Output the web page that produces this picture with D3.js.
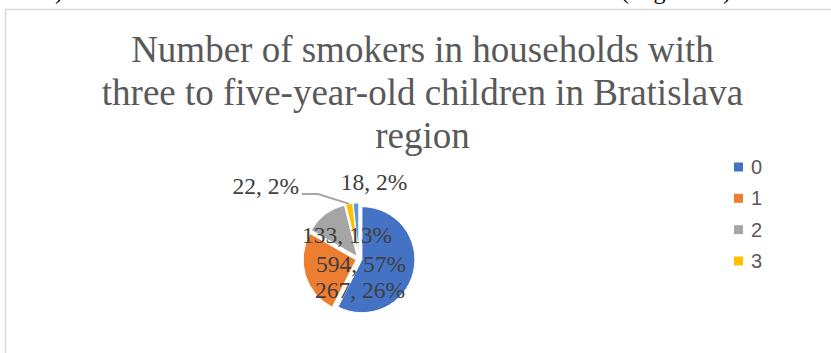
<!DOCTYPE html>
<html>
<head>
<meta charset="utf-8">
<script src="https://cdn.jsdelivr.net/npm/d3@7"></script>
<style>
  html, body { margin: 0; padding: 0; background: #fff; }
  svg { display: block; }
</style>
</head>
<body>
<svg id="chart" width="831" height="353"></svg>
<script>
// Households by number of smokers
const categories = ["0", "1", "2", "3", "4"];
const counts = [594, 267, 133, 22, 18];
const percentLabels = ["57%", "26%", "13%", "2%", "2%"];
const legendItems = ["0", "1", "2", "3"];
const titleLines = [
  "Number of smokers in households with",
  "three to five-year-old children in Bratislava",
  "region"
];

const colors = ["#4472C4", "#ED7D31", "#A5A5A5", "#FFC000", "#5B9BD5"];

const svg = d3.select("#chart");
const W = 831, H = 353;

// Tail of the preceding text line, clipped at the top of the page
const serif = "'Liberation Serif', 'Times New Roman', serif";
svg.append("text").attr("x", 55).attr("y", -1)
  .attr("font-family", serif).attr("font-size", 24).attr("fill", "#000").text(")");
svg.append("text").attr("x", 621).attr("y", -1)
  .attr("font-family", serif).attr("font-size", 24).attr("fill", "#000")
  .attr("textLength", 110).attr("lengthAdjust", "spacing").text("(Figure 1)");

// Chart frame
svg.append("path")
  .attr("d", `M5.5,${H} V9.5 H${W}`)
  .attr("fill", "none").attr("stroke", "#D9D9D9").attr("stroke-width", 1.5);

// Title
const title = svg.append("text")
  .attr("text-anchor", "middle")
  .attr("font-family", serif)
  .attr("font-size", 37)
  .attr("fill", "#595959");
titleLines.forEach((line, i) => {
  title.append("tspan").attr("x", 422.5).attr("y", 62 + i * 43).text(line);
});

// Pie
const cx = 359, cy = 259, R = 53, explode = 3;
const pie = d3.pie().sort(null).value(d => d.value);
const data = categories.map((c, i) => ({ cat: c, value: counts[i], pct: percentLabels[i], color: colors[i] }));
const arcs = pie(data);
const arc = d3.arc().innerRadius(0).outerRadius(R);

const g = svg.append("g").attr("transform", `translate(${cx},${cy})`);

function dirOf(a) {
  const m = (a.startAngle + a.endAngle) / 2;
  return [Math.sin(m), -Math.cos(m)];
}

g.selectAll("path.slice")
  .data(arcs)
  .join("path")
  .attr("class", "slice")
  .attr("d", arc)
  .attr("fill", d => d.data.color)
  .attr("stroke", "#fff")
  .attr("stroke-width", 1)
  .attr("transform", d => {
    const [ux, uy] = dirOf(d);
    return `translate(${ux * explode},${uy * explode})`;
  });

// Leader line for the small "3" slice
const yellow = arcs[3];
const [yx, yy] = dirOf(yellow);
const lineEnd = [yx * (R + explode), yy * (R + explode)];
g.append("polyline")
  .attr("points", [[-57, -65], [-41, -65], lineEnd].map(p => p.join(",")).join(" "))
  .attr("fill", "none").attr("stroke", "#A6A6A6").attr("stroke-width", 2);

// Data labels (value, percent); placement relative to pie centre
const labelLayout = [
  { dx: 2, dy: 13, anchor: "middle" },
  { dx: 1, dy: 39, anchor: "middle" },
  { dx: -12, dy: -16, anchor: "middle" },
  { dx: -60, dy: -65, anchor: "end" },
  { dx: 15, dy: -69, anchor: "middle" }
];
g.selectAll("text.lbl")
  .data(arcs)
  .join("text")
  .attr("class", "lbl")
  .attr("x", (d, i) => labelLayout[i].dx)
  .attr("y", (d, i) => labelLayout[i].dy)
  .attr("text-anchor", (d, i) => labelLayout[i].anchor)
  .attr("font-family", serif)
  .attr("font-size", 23.5)
  .attr("fill", "#404040")
  .text(d => `${d.data.value}, ${d.data.pct}`);

// Legend
const sans = "'Liberation Sans', Arial, sans-serif";
const legY = d3.scalePoint().domain(legendItems).range([167, 261]);
const leg = svg.append("g");
const items = leg.selectAll("g").data(legendItems).join("g")
  .attr("transform", d => `translate(734,${legY(d)})`);
items.append("rect")
  .attr("x", 0).attr("y", -4.5).attr("width", 9).attr("height", 9)
  .attr("fill", (d, i) => colors[i]);
items.append("text")
  .attr("x", 17).attr("y", 7)
  .attr("font-family", sans).attr("font-size", 20).attr("fill", "#595959")
  .text(d => d);
</script>
</body>
</html>
